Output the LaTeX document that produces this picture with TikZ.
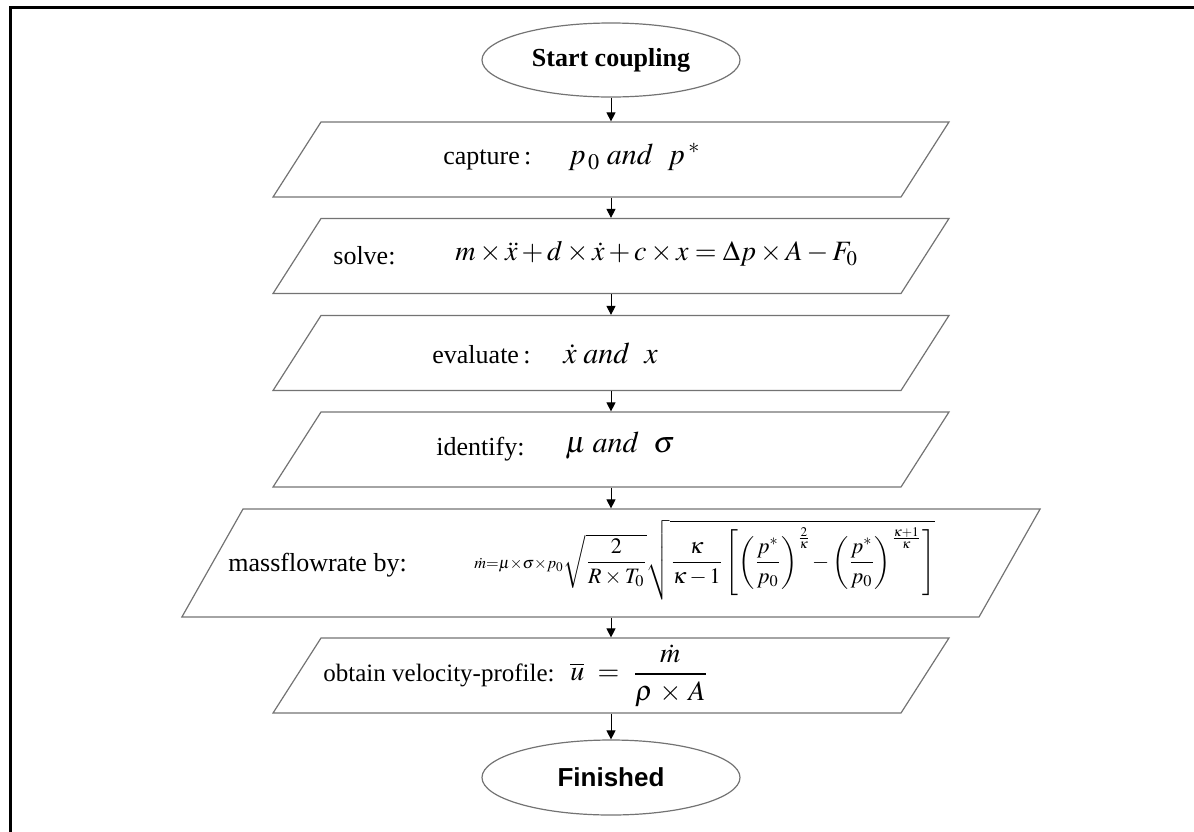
\documentclass[tikz,border=0pt]{standalone}
\usepackage{amsmath}
\usepackage{mathptmx}
\usepackage[no-math]{fontspec}
\setmainfont{Liberation Serif}
\newfontfamily\headsans{Liberation Sans}
\usetikzlibrary{arrows.meta,shapes.geometric}
\tikzset{
  terminal/.style={ellipse,draw=black!55,line width=0.6pt,minimum width=129pt,minimum height=37pt,inner sep=0pt},
  iobox/.style={trapezium,trapezium left angle=57.4,trapezium right angle=122.6,
    draw=black!55,line width=0.6pt,inner xsep=145pt,inner ysep=18.75pt},
  boxlabel/.style={anchor=west,inner sep=0pt,font=\fontsize{13}{15}\selectfont},
  boxmath/.style={anchor=west,inner sep=0pt,font=\fontsize{14}{17}\selectfont},
  flow/.style={-{Triangle[length=4.5pt,width=4.5pt]},line width=0.5pt}
}

\begin{document}
\begin{tikzpicture}[x=0.5pt,y=-0.5pt]
  \useasboundingbox (0,0) rectangle (1194,831);
  \clip (0,0) rectangle (1194,831);
  % frame
  \draw[line width=1.5pt] (10,840) -- (10,7) -- (1210,7);

  % chart
  \node[terminal,font=\fontsize{13}{15}\selectfont\bfseries] (start) at (611,60) {Start coupling};
  \node[iobox] (capture) at (611,159.5) {};
  \node[iobox] (solve) at (611,256) {};
  \node[iobox] (evaluate) at (611,353) {};
  \node[iobox] (identify) at (611,449.5) {};
  \node[iobox,inner xsep=184pt,inner ysep=27pt,trapezium left angle=60.5,trapezium right angle=119.5] (massflow) at (611,563) {};
  \node[iobox] (velocity) at (611,675.5) {};
  \node[terminal,minimum height=37.5pt,font=\fontsize{13}{15}\selectfont\headsans\bfseries] (finish) at (611,777.5) {Finished};

  % texts
  \node[boxlabel] (captureL) at (443,159.5) {capture\,:};
  \node[boxmath,font=\fontsize{15}{18}\selectfont] (captureM) at (568,157) {$p_{\,0}\;\mathit{and}\ \ p\,{}^{*}$};
  \node[boxlabel] (solveL) at (333,256) {solve:};
  \node[boxmath] (solveM) at (455,254) {$m\times\ddot{x}+d\times\dot{x}+c\times x=\Delta p\times A-F_{0}$};
  \node[boxlabel] (evaluateL) at (432,355) {evaluate\,:};
  \node[boxmath,font=\fontsize{15}{18}\selectfont] (evaluateM) at (563,353) {$\dot{x}\;\mathit{and}\ \ x$};
  \node[boxlabel] (identifyL) at (436,449.5) {identify:};
  \node[boxmath,font=\fontsize{15}{18}\selectfont] (identifyM) at (565,446) {$\mu\;\mathit{and}\ \ \sigma$};
  \node[boxlabel] (massflowL) at (228,565) {massflowrate by:};
  \node[boxmath,font=\fontsize{11}{13}\selectfont] (massflowM) at (474,560)
    {${\scriptstyle\dot{m}=\mu\times\sigma\times p_{0}}\sqrt{\dfrac{2}{R\times T_{0}}}\sqrt{\dfrac{\kappa}{\kappa-1}\left[\left(\dfrac{p^{*}}{p_{0}}\right)^{\frac{2}{\kappa}}\!-\left(\dfrac{p^{*}}{p_{0}}\right)^{\frac{\kappa+1}{\kappa}}\right]}$};
  \node[boxlabel,font=\fontsize{12.5}{15}\selectfont] (velocityL) at (323,675.5) {obtain velocity-profile:};
  \node[boxmath] (velocityM) at (570,675.5) {$\overline{u}\ =\ \dfrac{\;\dot{m}\;}{\rho\,\times\,A}$};

  % connectors
  \draw[flow] (start) -- (capture);
  \draw[flow] (capture) -- (solve);
  \draw[flow] (solve) -- (evaluate);
  \draw[flow] (evaluate) -- (identify);
  \draw[flow] (identify) -- (massflow);
  \draw[flow] (massflow) -- (velocity);
  \draw[flow] (velocity) -- (finish);
\end{tikzpicture}
\end{document}
